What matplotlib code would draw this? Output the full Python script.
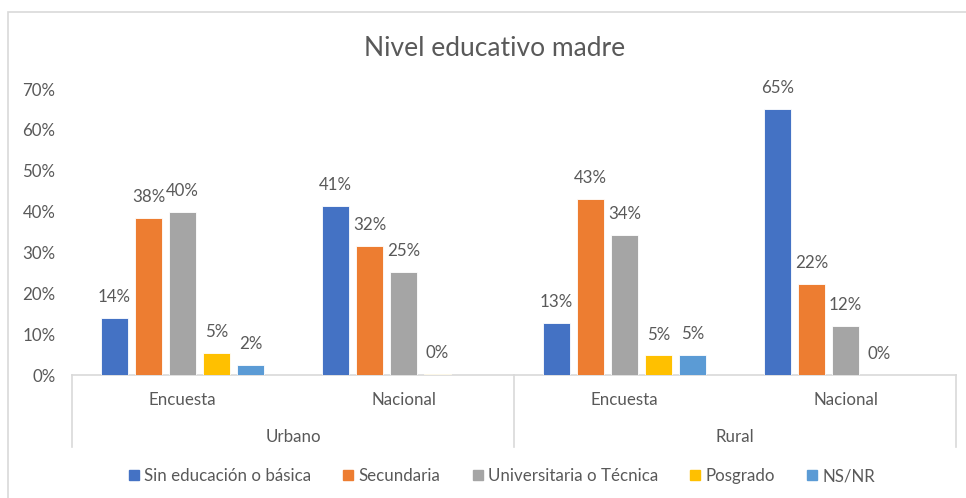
import matplotlib
matplotlib.use("Agg")

import numpy as np
import matplotlib.pyplot as plt
from matplotlib.patches import Rectangle
from matplotlib.lines import Line2D

# ------------------------------------------------------------------
# Data (percent)
# ------------------------------------------------------------------
subgroups = ["Encuesta", "Nacional", "Encuesta", "Nacional"]
zones = ["Urbano", "Rural"]
series = ["Sin educación o básica", "Secundaria", "Universitaria o Técnica",
          "Posgrado", "NS/NR"]

sin_educacion = [13.9, 41.3, 12.8, 65.2]
secundaria    = [38.5, 31.5, 43.0, 22.3]
universitaria = [40.0, 25.3, 34.3, 12.1]
posgrado      = [5.4, 0.3, 4.8, 0.0]
ns_nr         = [2.4, np.nan, 5.0, np.nan]

values = [sin_educacion, secundaria, universitaria, posgrado, ns_nr]
colors = ["#4472C4", "#ED7D31", "#A5A5A5", "#FFC000", "#5B9BD5"]

TXT = "#595959"
LINE = "#D9D9D9"
FONT = ["Lato", "DejaVu Sans"]
FS = 12.2

plt.rcParams["font.family"] = FONT

W, H = 966, 498
fig = plt.figure(figsize=(W / 100, H / 100), dpi=100)

# chart border (runs off the right/bottom edge like the reference)
fig.add_artist(Rectangle((8 / W, -0.02), 1.1, (H - 12) / H + 0.02,
                         transform=fig.transFigure, fill=False,
                         edgecolor=LINE, lw=1.2))

x0, x1 = 72, 956
y_top, y_zero = 89, 375
ax = fig.add_axes([x0 / W, (H - y_zero) / H, (x1 - x0) / W, (y_zero - y_top) / H])

x = np.arange(len(subgroups))
bw = 27 / 221
pitch = 34 / 221
for i, (vals, col) in enumerate(zip(values, colors)):
    pos = x + (i - 2) * pitch
    v = np.array(vals, dtype=float)
    ax.bar(pos, np.nan_to_num(v), width=bw, color=col, edgecolor="white",
           linewidth=0.6, zorder=3)
    for p, val in zip(pos, v):
        if np.isnan(val):
            continue
        ax.annotate(f"{val:.0f}%", xy=(p, val), xytext=(0, 15),
                    textcoords="offset points", ha="center", va="center",
                    fontsize=FS, color=TXT)

ax.set_xlim(-0.5, 3.5)
ax.set_ylim(0, 70)
ax.set_yticks(np.arange(0, 71, 10))
ax.set_yticklabels([f"{t}%" for t in range(0, 71, 10)])
ax.tick_params(axis="y", length=0, pad=12, labelsize=FS, labelcolor=TXT)
ax.tick_params(axis="x", length=0, labelbottom=False)
for s in ["top", "right", "left"]:
    ax.spines[s].set_visible(False)
ax.spines["bottom"].set_color(LINE)
ax.spines["bottom"].set_linewidth(1.2)

# multi-level category axis
ph = y_zero - y_top
def ay(py):
    return -(py - y_zero) / ph

trans = ax.get_xaxis_transform()
for sx in [-0.5, 1.5, 3.5]:
    ax.add_line(Line2D([sx, sx], [0, ay(447)], transform=trans, color=LINE,
                       lw=1.2, clip_on=False))
for xi, lab in zip(x, subgroups):
    ax.text(xi, ay(400), lab, transform=trans, ha="center", va="center",
            fontsize=FS, color=TXT)
for zi, lab in enumerate(zones):
    ax.text(zi * 2 + 0.5, ay(437), lab, transform=trans, ha="center",
            va="center", fontsize=FS, color=TXT)

fig.text(495 / W, 1 - 48 / H, "Nivel educativo madre", ha="center",
         va="center", fontsize=19, color=TXT)

handles = [Rectangle((0, 0), 1, 1, color=c) for c in colors]
fig.legend(handles, series, loc="center", bbox_to_anchor=(502 / W, 1 - 476 / H),
           ncol=5, frameon=False, fontsize=FS, labelcolor=TXT,
           handlelength=0.6, handleheight=0.6, handletextpad=0.3,
           columnspacing=1.9)

fig.savefig("out.png", dpi=100)
